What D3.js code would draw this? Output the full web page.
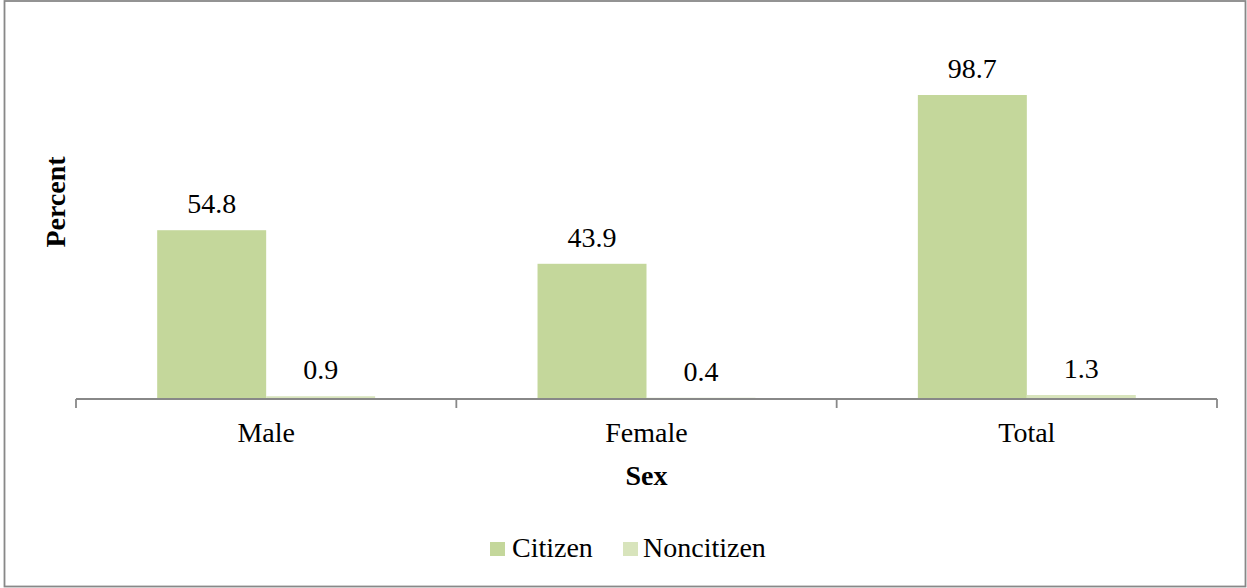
<!DOCTYPE html>
<html>
<head>
<meta charset="utf-8">
<script src="https://cdn.jsdelivr.net/npm/d3@7"></script>
<style>
  body { margin: 0; background: #fff; }
</style>
</head>
<body>
<div id="chart"></div>
<script>
var categories = ["Male", "Female", "Total"];
var seriesNames = ["Citizen", "Noncitizen"];
var citizen = [54.8, 43.9, 98.7];
var noncitizen = [0.9, 0.4, 1.3];
var colors = ["#c4d79b", "#d8e4bc"];

var width = 1247, height = 588;
var plot = { left: 76, right: 1217, top: 91, bottom: 399 };
var font = "'Times New Roman', 'Liberation Serif', Times, serif";

var svg = d3.select("#chart")
    .append("svg")
    .attr("width", width)
    .attr("height", height)
    .style("font-family", font);

// outer frame
svg.append("rect")
    .attr("x", 4.5)
    .attr("y", 1)
    .attr("width", 1241)
    .attr("height", 585.5)
    .attr("fill", "none")
    .attr("stroke", "#888")
    .attr("stroke-width", 1.8);

var x0 = d3.scaleBand()
    .domain(categories)
    .range([plot.left, plot.right])
    .paddingInner(0)
    .paddingOuter(0);

var x1 = d3.scaleBand()
    .domain(seriesNames)
    .range([0, x0.bandwidth()])
    .paddingInner(0)
    .paddingOuter(0.745);

var y = d3.scaleLinear()
    .domain([0, 100])
    .range([plot.bottom, plot.top]);

var rows = categories.map(function (c, i) {
    return { cat: c, values: [citizen[i], noncitizen[i]] };
});

var groups = svg.append("g")
    .selectAll("g")
    .data(rows)
    .enter()
    .append("g")
    .attr("transform", function (d) { return "translate(" + x0(d.cat) + ",0)"; });

groups.selectAll("rect")
    .data(function (d) { return d.values.map(function (v, j) { return { s: seriesNames[j], v: v, j: j }; }); })
    .enter()
    .append("rect")
    .attr("x", function (d) { return x1(d.s); })
    .attr("y", function (d) { return y(d.v); })
    .attr("width", x1.bandwidth())
    .attr("height", function (d) { return y(0) - y(d.v); })
    .attr("fill", function (d) { return colors[d.j]; });

groups.selectAll(".lbl")
    .data(function (d) { return d.values.map(function (v, j) { return { s: seriesNames[j], v: v }; }); })
    .enter()
    .append("text")
    .attr("class", "lbl")
    .attr("x", function (d) { return x1(d.s) + x1.bandwidth() / 2; })
    .attr("y", function (d) { return y(d.v) - 17; })
    .attr("text-anchor", "middle")
    .attr("font-family", font)
    .style("font-size", "28px")
    .text(function (d) { return d3.format(".1f")(d.v); });

// x axis
var xAxis = svg.append("g");
xAxis.append("line")
    .attr("x1", plot.left)
    .attr("x2", plot.right)
    .attr("y1", plot.bottom)
    .attr("y2", plot.bottom)
    .attr("stroke", "#888")
    .attr("stroke-width", 1.8);

var tickPos = categories.map(function (c) { return x0(c); }).concat([plot.right]);
xAxis.selectAll(".tick")
    .data(tickPos)
    .enter()
    .append("line")
    .attr("x1", function (d) { return d; })
    .attr("x2", function (d) { return d; })
    .attr("y1", plot.bottom)
    .attr("y2", plot.bottom + 9)
    .attr("stroke", "#888")
    .attr("stroke-width", 1.8);

xAxis.selectAll(".cat")
    .data(categories)
    .enter()
    .append("text")
    .attr("x", function (d) { return x0(d) + x0.bandwidth() / 2; })
    .attr("y", 442)
    .attr("text-anchor", "middle")
    .attr("font-family", font)
    .style("font-size", "28px")
    .text(function (d) { return d; });

svg.append("text")
    .attr("x", (plot.left + plot.right) / 2)
    .attr("y", 485)
    .attr("text-anchor", "middle")
    .attr("font-family", font)
    .style("font-size", "28px")
    .style("font-weight", "bold")
    .text("Sex");

svg.append("text")
    .attr("transform", "translate(65,202) rotate(-90)")
    .attr("text-anchor", "middle")
    .attr("font-family", font)
    .style("font-size", "28px")
    .style("font-weight", "bold")
    .text("Percent");

// legend
var legendItems = [
    { name: seriesNames[0], color: colors[0], sx: 490, tx: 512 },
    { name: seriesNames[1], color: colors[1], sx: 623, tx: 643 }
];
var legend = svg.append("g");
legend.selectAll("rect")
    .data(legendItems)
    .enter()
    .append("rect")
    .attr("x", function (d) { return d.sx; })
    .attr("y", 542)
    .attr("width", 15)
    .attr("height", 14)
    .attr("fill", function (d) { return d.color; });
legend.selectAll("text")
    .data(legendItems)
    .enter()
    .append("text")
    .attr("x", function (d) { return d.tx; })
    .attr("y", 557)
    .attr("font-family", font)
    .style("font-size", "28px")
    .text(function (d) { return d.name; });
</script>
</body>
</html>
